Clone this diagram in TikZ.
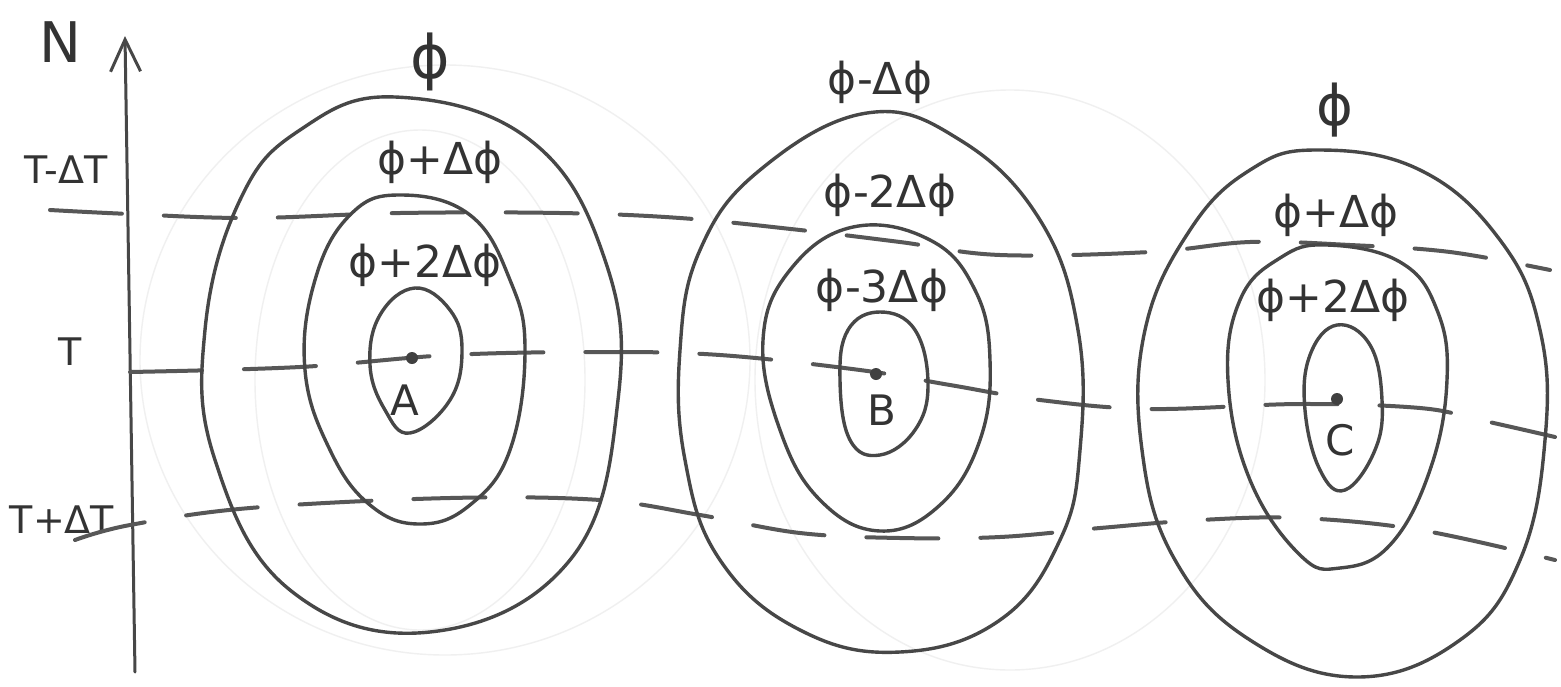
\documentclass[tikz,border=0pt]{standalone}
\usepackage{fontspec}
\setmainfont{DejaVu Sans}
\usetikzlibrary{arrows.meta}
\begin{document}
\begin{tikzpicture}[x=1pt,y=-1pt,
  pen/.style={draw=black!72,line width=3.4pt,line cap=round,line join=round},
  faint/.style={draw=black!6,line width=1.4pt},
  dashline/.style={pen,draw=black!66,line width=4pt,dash pattern=on 72pt off 42pt},
  lbl/.style={text=black!80,inner sep=0pt,font=\fontsize{44}{50}\selectfont},
  axlbl/.style={text=black!80,inner sep=0pt,font=\fontsize{38}{44}\selectfont},
  dot/.style={circle,fill=black!75,inner sep=0pt,minimum size=12pt}]
\useasboundingbox (0,0) rectangle (1561,686);
\fill[white] (0,0) rectangle (1561,686);
% faint erased traces
\draw[faint] (445,360) ellipse [x radius=305, y radius=295];
\draw[faint] (420,380) ellipse [x radius=165, y radius=250];
\draw[faint] (1010,380) ellipse [x radius=255, y radius=290];
% axis
\coordinate (axb) at (135,672);
\coordinate (axt) at (125,36);
\draw[pen,line width=3pt,-{Straight Barb[length=32pt,width=30pt,line width=3pt]}] (axb) -- (axt);
\node[lbl,font=\fontsize{56}{60}\selectfont] (lblN) at (60,42) {N};
\node[axlbl] (lblTm) at (66,170) {T-ΔT};
\node[axlbl] (lblT) at (70,352) {T};
\node[axlbl] (lblTp) at (62,520) {T+ΔT};
% dashed isotherms
\draw[dashline] plot[smooth,tension=0.6] coordinates {(50,210) (130,214) (250,218) (400,213) (560,213) (680,218) (800,230) (900,242) (1000,255) (1150,252) (1250,242) (1350,245) (1450,252) (1550,270)};
\draw[dashline] plot[smooth,tension=0.6] coordinates {(130,372) (300,367) (450,355) (600,352) (720,355) (860,370) (950,385) (1040,400) (1150,409) (1300,404) (1420,408) (1480,420) (1555,437)};
\draw[dashline] plot[smooth,tension=0.6] coordinates {(75,540) (130,525) (250,508) (450,498) (600,500) (700,515) (800,533) (900,538) (1000,537) (1100,528) (1200,520) (1300,518) (1420,530) (1555,560)};
% A contours
\draw[pen] plot[smooth cycle,tension=0.7] coordinates {(395,97) (530,140) (605,260) (618,400) (570,560) (430,632) (290,590) (215,460) (205,330) (240,200) (300,130)};
\draw[pen] plot[smooth cycle,tension=0.7] coordinates {(400,195) (470,215) (510,280) (525,350) (510,450) (470,505) (420,524) (370,505) (330,450) (305,370) (315,280) (350,215)};
\draw[pen] plot[smooth cycle,tension=0.7] coordinates {(415,288) (450,310) (462,350) (450,400) (410,433) (385,410) (370,365) (380,315)};
% B contours
\draw[pen] plot[smooth cycle,tension=0.7] coordinates {(867,113) (960,140) (1040,220) (1078,330) (1080,450) (1060,540) (1000,620) (900,652) (800,630) (720,560) (685,460) (680,350) (700,250) (760,170)};
\draw[pen] plot[smooth cycle,tension=0.7] coordinates {(853,227) (930,240) (975,290) (990,360) (980,440) (940,505) (880,531) (820,500) (780,430) (763,340) (790,270)};
\draw[pen] plot[smooth cycle,tension=0.7] coordinates {(880,312) (915,330) (928,385) (915,430) (880,455) (850,440) (840,380) (848,330)};
% C contours
\draw[pen] plot[smooth cycle,tension=0.7] coordinates {(1317,150) (1420,170) (1500,240) (1540,330) (1545,440) (1520,560) (1460,640) (1357,677) (1250,640) (1175,560) (1142,450) (1145,330) (1190,230) (1250,170)};
\draw[pen] plot[smooth cycle,tension=0.7] coordinates {(1327,245) (1400,262) (1437,310) (1447,380) (1430,470) (1390,545) (1340,568) (1300,555) (1250,480) (1228,380) (1240,300) (1280,258)};
\draw[pen] plot[smooth cycle,tension=0.7] coordinates {(1337,325) (1370,345) (1382,400) (1375,450) (1345,490) (1320,470) (1305,410) (1310,355)};
% centres
\node[dot] (dotA) at (412,358) {};
\node[dot] (dotB) at (876,374) {};
\node[dot] (dotC) at (1337,399) {};
\node[axlbl,font=\fontsize{42}{46}\selectfont] (lblA) at (405,400) {A};
\node[axlbl,font=\fontsize{42}{46}\selectfont] (lblB) at (882,410) {B};
\node[axlbl,font=\fontsize{42}{46}\selectfont] (lblC) at (1340,440) {C};
% potential labels
\node[lbl,font=\fontsize{60}{64}\selectfont] (pA1) at (430,62) {ϕ};
\node[lbl] (pA2) at (440,162) {ϕ+Δϕ};
\node[lbl] (pA3) at (425,265) {ϕ+2Δϕ};
\node[lbl] (pB1) at (880,82) {ϕ-Δϕ};
\node[lbl] (pB2) at (890,195) {ϕ-2Δϕ};
\node[lbl] (pB3) at (882,290) {ϕ-3Δϕ};
\node[lbl,font=\fontsize{56}{60}\selectfont] (pC1) at (1335,110) {ϕ};
\node[lbl] (pC2) at (1336,215) {ϕ+Δϕ};
\node[lbl] (pC3) at (1333,300) {ϕ+2Δϕ};
\end{tikzpicture}
\end{document}
